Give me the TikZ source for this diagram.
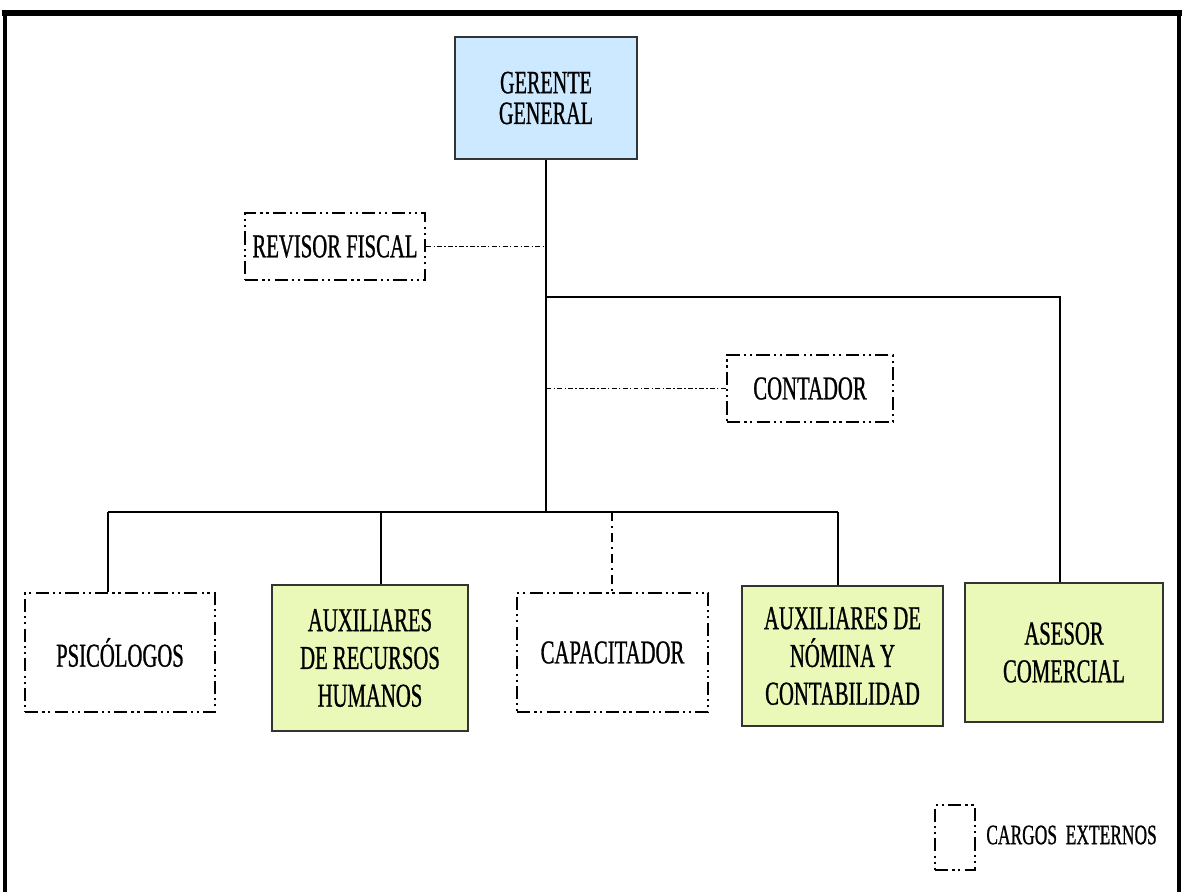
\documentclass[tikz,border=0pt]{standalone}
\usepackage{fontspec}
\setmainfont{Liberation Serif}
\newfontfamily\orgfont{Liberation Serif}[FakeStretch=0.62,FakeBold=0.8]
\definecolor{topblue}{HTML}{CCE9FF}
\definecolor{unitgreen}{HTML}{EAF8B8}
\begin{document}
\begin{tikzpicture}[x=0.02cm,y=-0.02cm,
  every node/.style={font=\orgfont\fontsize{19}{21.5}\selectfont, align=center, inner sep=0pt},
  solidbox/.style={draw=black!80, line width=1.1pt, fill=unitgreen},
  extbox/.style={draw=black, line width=1.6pt,
    dash pattern=on 7.5pt off 2.4pt on 1.2pt off 2.2pt on 1.2pt off 2.4pt},
  link/.style={draw=black, line width=0.75pt},
  extlink/.style={draw=black, line width=0.75pt,
    dash pattern=on 2.8pt off 1.3pt on 0.8pt off 1.3pt},
  droplink/.style={draw=black, line width=0.7pt,
    dash pattern=on 5pt off 3pt on 1pt off 3pt}]
\useasboundingbox (0,0) rectangle (1184,892);
% outer frame, open at the bottom
\draw[line width=3.4pt] (2,13) -- (1182,13);
\draw[line width=2.2pt] (5,13) -- (5,892);
\draw[line width=2.2pt] (1179,13) -- (1179,892);

% positions
\node[solidbox, fill=topblue, minimum width=3.64cm, minimum height=2.44cm,
  font=\orgfont\fontsize{18.5}{17.5}\selectfont] (gg) at (546,98) {GERENTE\\GENERAL};
\node[extbox, minimum width=3.6cm, minimum height=1.34cm] (rf) at (335,246.5) {REVISOR FISCAL};
\node[extbox, minimum width=3.32cm, minimum height=1.34cm] (ct) at (810,388.5) {CONTADOR};
\node[extbox, minimum width=3.8cm, minimum height=2.38cm] (ps) at (120,652.5) {PSICÓLOGOS};
\node[solidbox, minimum width=3.92cm, minimum height=2.92cm] (arh) at (370,658) {AUXILIARES\\DE RECURSOS\\HUMANOS};
\node[extbox, minimum width=3.82cm, minimum height=2.38cm] (cap) at (612.5,652.5) {CAPACITADOR};
\node[solidbox, minimum width=4.02cm, minimum height=2.8cm] (anc) at (842.5,656)
  {AUXILIARES DE\\NÓMINA Y\\CONTABILIDAD};
\node[solidbox, minimum width=3.96cm, minimum height=2.78cm] (ase) at (1064,652.5) {ASESOR\\COMERCIAL};

% legend
\node[extbox, minimum width=0.8cm, minimum height=1.3cm] (leg) at (955,837.5) {};
\node[anchor=west, font=\orgfont\fontsize{16}{16}\selectfont] (legtxt) at (986,835) {CARGOS~~EXTERNOS};

% junction points
\coordinate (split) at (546,297);
\coordinate (bar) at (546,512);
\coordinate (b1) at (108,512);
\coordinate (b2) at (381,512);
\coordinate (b3) at (612,512);
\coordinate (b4) at (838,512);
\coordinate (r1) at (1060,297);

% solid reporting lines
\draw[link] (gg.south) -- (bar);
\draw[link] (split) -- (r1) -- (r1 |- ase.north);
\draw[link] (b1) -- (b4);
\draw[link] (b1) -- (b1 |- ps.north);
\draw[link] (b2) -- (b2 |- arh.north);
\draw[link] (b4) -- (b4 |- anc.north);

% external positions
\draw[extlink] (rf.east) -- (rf.east -| gg.south);
\draw[extlink] (ct.west) -- (ct.west -| gg.south);
\draw[droplink] (b3) -- (b3 |- cap.north);
\end{tikzpicture}
\end{document}
